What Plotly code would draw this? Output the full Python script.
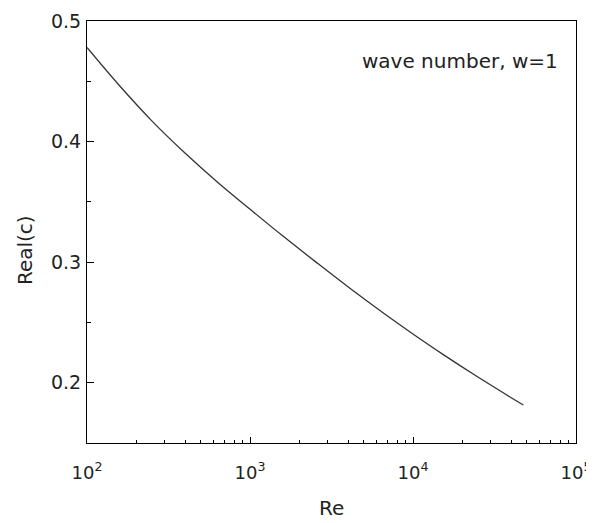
import plotly.graph_objects as go

re_vals = [100, 156, 249, 399, 640, 1024, 1600, 2564, 4102, 6577, 9594, 15350, 24600, 39360, 47550]
real_c = [0.478, 0.4473, 0.4174, 0.3905, 0.3657, 0.3428, 0.3214, 0.2996, 0.2783, 0.2578,
          0.2421, 0.2233, 0.2053, 0.1882, 0.1815]

x_tickvals = [1e2, 1e3, 1e4, 1e5]
x_ticktext = ["10<sup>2</sup>", "10<sup>3</sup>", "10<sup>4</sup>", "10<sup>5</sup>"]
x_minor = [m * 10 ** e for e in (2, 3, 4) for m in range(2, 10)]
y_tickvals = [0.2, 0.3, 0.4, 0.5]
y_ticktext = ["0.2", "0.3", "0.4", "0.5"]
y_minor = [0.15, 0.25, 0.35, 0.45]

font = "DejaVu Sans, Liberation Sans, Arial, sans-serif"
txt = "#222222"

fig = go.Figure()
fig.add_trace(go.Scatter(x=re_vals, y=real_c, mode="lines",
                         line=dict(color="#333333", width=1.3, shape="spline", smoothing=1.0),
                         showlegend=False))

fig.update_xaxes(
    type="log", range=[2, 5], tickmode="array", tickvals=x_tickvals, ticktext=x_ticktext,
    ticks="inside", ticklen=6, tickwidth=1, tickcolor="black",
    minor=dict(tickmode="array", tickvals=x_minor, ticks="inside", ticklen=3, tickwidth=1, tickcolor="black"),
    showline=True, linecolor="black", linewidth=1, mirror=True, showgrid=False, zeroline=False,
    tickfont=dict(family=font, size=18, color=txt), automargin=False, ticklabelstandoff=13,
)
fig.update_yaxes(
    range=[0.15, 0.5], tickmode="array", tickvals=y_tickvals, ticktext=y_ticktext,
    ticks="inside", ticklen=7, tickwidth=1, tickcolor="black",
    minor=dict(tickmode="array", tickvals=y_minor, ticks="inside", ticklen=4, tickwidth=1, tickcolor="black"),
    showline=True, linecolor="black", linewidth=1, mirror=True, showgrid=False, zeroline=False,
    tickfont=dict(family=font, size=19, color=txt), automargin=False, ticklabelstandoff=1,
)
fig.add_annotation(text="wave number, w=1", xref="paper", yref="paper", x=0.967, y=0.905,
                   xanchor="right", yanchor="middle", showarrow=False,
                   font=dict(family=font, size=20, color=txt))
fig.add_annotation(text="Re", xref="paper", yref="paper", x=0.5, y=-0.154,
                   xanchor="center", yanchor="middle", showarrow=False,
                   font=dict(family=font, size=20, color=txt))
fig.add_annotation(text="Real(c)", xref="paper", yref="paper", x=-0.127, y=0.457,
                   xanchor="center", yanchor="middle", showarrow=False, textangle=-90,
                   font=dict(family=font, size=20, color=txt))
fig.update_layout(width=586, height=515, margin=dict(l=79, r=18, t=13, b=80),
                  plot_bgcolor="white", paper_bgcolor="white")
fig.write_html("out.html")
